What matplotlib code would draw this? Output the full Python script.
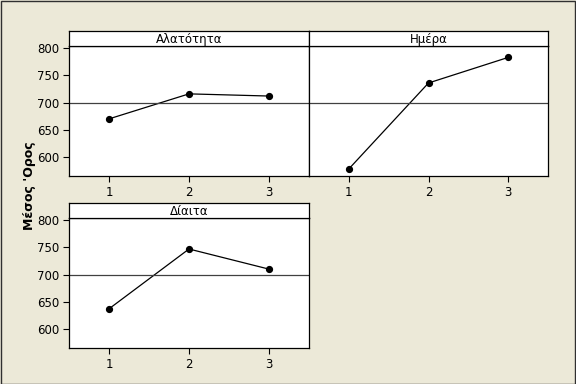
import matplotlib.pyplot as plt
from matplotlib.patches import Rectangle

# mean response per level of each factor
levels = [1, 2, 3]
salinity = [670, 716, 712]
day = [578, 736, 783]
diet = [637, 747, 710]
grand_mean = 699

panels = [
    ("Αλατότητα", salinity, (69, 31, 309, 176), True),
    ("Ημέρα", day, (309, 31, 548, 176), False),
    ("Δίαιτα", diet, (69, 203, 309, 348), True),
]

W, H = 576, 384
bg = "#ece9d8"

fig = plt.figure(figsize=(5.76, 3.84), dpi=100, facecolor=bg)
plt.rcParams['font.family'] = ['DejaVu Sans']

for title, vals, (x0, y0, x1, y1), show_y in panels:
    strip_h = 15
    # plot area
    ax = fig.add_axes([x0 / W, 1 - y1 / H, (x1 - x0) / W, (y1 - y0 - strip_h) / H])
    ax.plot(levels, vals, color="black", lw=0.9, marker="o", ms=4.2)
    ax.axhline(grand_mean, color="#404040", lw=0.9)
    ax.set_xlim(0.5, 3.5)
    ax.set_ylim(565, 804)
    ax.set_xticks(levels)
    ax.set_yticks([600, 650, 700, 750, 800])
    ax.tick_params(labelsize=8.5, length=4, width=0.8, colors="black", pad=3)
    if not show_y:
        ax.tick_params(axis="y", left=False, labelleft=False)
    for s in ax.spines.values():
        s.set_linewidth(0.9)
    # header strip
    sax = fig.add_axes([x0 / W, 1 - (y0 + strip_h) / H, (x1 - x0) / W, strip_h / H])
    sax.set_xticks([])
    sax.set_yticks([])
    for s in sax.spines.values():
        s.set_linewidth(0.9)
    sax.text(0.5, 0.45, title, ha="center", va="center", fontsize=8.5, transform=sax.transAxes)

fig.text(29 / W, 1 - 186 / H, "Μέσος 'Ορος", rotation=90, ha="center", va="center",
         fontsize=9, fontweight="bold")

# window border
fig.patches.append(Rectangle((0.001, 0.001), 0.997, 0.996, transform=fig.transFigure,
                             fill=False, edgecolor="#303030", lw=1.0))

fig.savefig("out.png", dpi=100, facecolor=bg)
